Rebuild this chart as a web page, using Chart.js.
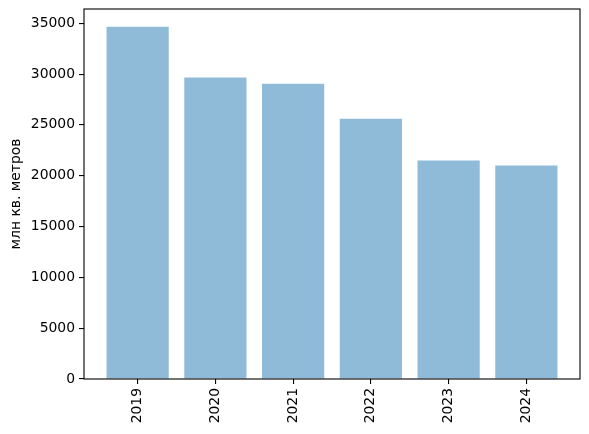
<!DOCTYPE html>
<html>
<head>
<meta charset="utf-8">
<script src="https://cdn.jsdelivr.net/npm/chart.js@4.4.3/dist/chart.umd.min.js"></script>
<style>
  html, body { margin:0; padding:0; background:#fff; }
  #wrap { width:589px; height:434px; }
</style>
</head>
<body>
<div id="wrap"><canvas id="c" width="589" height="434"></canvas></div>
<script>
// данные с графика
const years = ['2019', '2020', '2021', '2022', '2023', '2024'];
const area = [34650, 29650, 29050, 25600, 21500, 21000];
const yTicks = [0, 5000, 10000, 15000, 20000, 25000, 30000, 35000];
const yTitle = 'млн кв. метров';

const FONT = { family: '"DejaVu Sans", sans-serif', size: 13.9 };

// рамка вокруг области графика (как spines в matplotlib)
const frame = {
  id: 'frame',
  afterDatasetsDraw(chart){
    const {ctx, chartArea:a} = chart;
    ctx.save();
    ctx.strokeStyle = '#000';
    ctx.lineWidth = 1.1;
    ctx.strokeRect(a.left, a.top, a.right - a.left, a.bottom - a.top);
    ctx.restore();
  }
};

new Chart(document.getElementById('c'), {
  type: 'bar',
  data: {
    datasets: [{
      data: area.map((v, i) => ({ x: i, y: v })),
      backgroundColor: 'rgba(31,119,180,0.5)',
      borderWidth: 0,
      barPercentage: 0.8,
      categoryPercentage: 1
    }]
  },
  options: {
    responsive: false,
    animation: false,
    layout: { padding: { top: 9, right: 9, left: 0, bottom: 0 } },
    plugins: { legend: { display: false }, tooltip: { enabled: false } },
    scales: {
      x: {
        type: 'linear',
        min: -0.69, max: 5.69,
        offset: false,
        afterBuildTicks: s => { s.ticks = years.map((_, i) => ({ value: i })); },
        afterFit: s => { s.height = 55; s.paddingLeft = 0; s.paddingRight = 0; },
        ticks: {
          autoSkip: false,
          maxRotation: 90, minRotation: 90,
          padding: 4,
          color: '#000',
          font: FONT,
          callback: v => years[v]
        },
        grid: { display: true, offset: false, drawOnChartArea: false, drawTicks: true, tickLength: 5, color: '#000', lineWidth: 1.1 },
        border: { display: false }
      },
      y: {
        min: 0, max: 36400,
        afterBuildTicks: s => { s.ticks = yTicks.map(v => ({ value: v })); },
        afterFit: s => { s.width = 84; s.paddingTop = 0; s.paddingBottom = 0; },
        ticks: { padding: 4, color: '#000', font: FONT, callback: v => String(v) },
        grid: { display: true, drawOnChartArea: false, drawTicks: true, tickLength: 5, color: '#000', lineWidth: 1.1 },
        border: { display: false },
        title: { display: true, text: yTitle, color: '#000', font: FONT, padding: { top: 8, bottom: 0 } }
      }
    }
  },
  plugins: [frame]
});
</script>
</body>
</html>
